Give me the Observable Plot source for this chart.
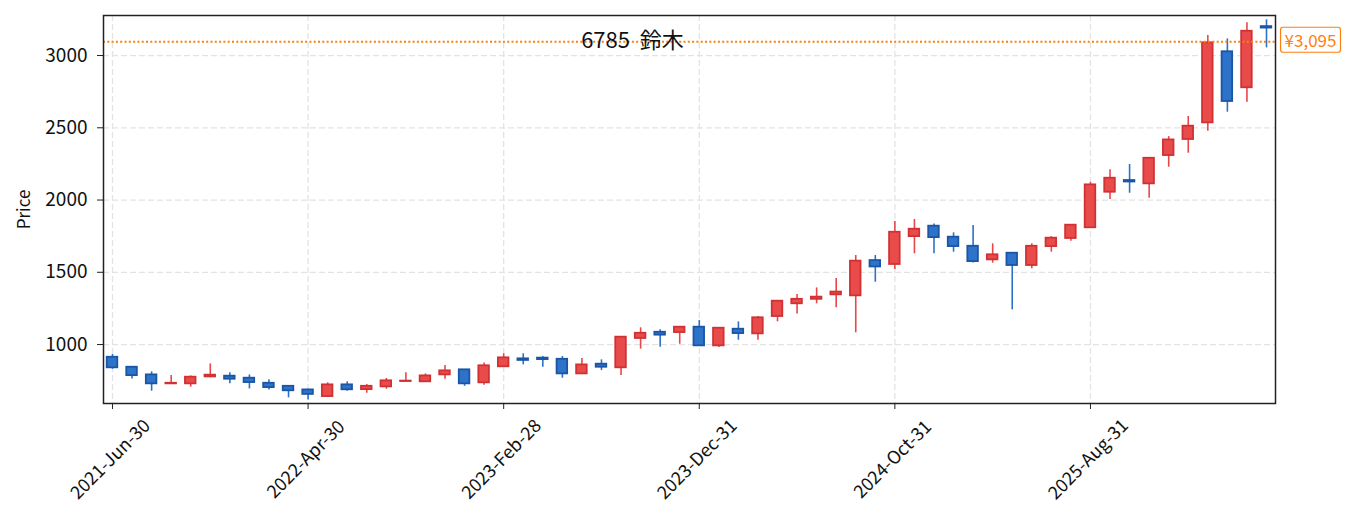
<!DOCTYPE html>
<html>
<head>
<meta charset="utf-8">
<script src="https://cdn.jsdelivr.net/npm/d3@7"></script>
<script src="https://cdn.jsdelivr.net/npm/@observablehq/plot@0.6"></script>
<style>
  html, body { margin: 0; padding: 0; background: #fff; }
  svg text { white-space: pre; }
</style>
</head>
<body>
<div id="chart"></div>
<script>
const dates = [
  "2021-Jun-30","2021-Jul-31","2021-Aug-31","2021-Sep-30","2021-Oct-31","2021-Nov-30","2021-Dec-31",
  "2022-Jan-31","2022-Feb-28","2022-Mar-31","2022-Apr-30","2022-May-31","2022-Jun-30","2022-Jul-31","2022-Aug-31","2022-Sep-30","2022-Oct-31","2022-Nov-30","2022-Dec-31",
  "2023-Jan-31","2023-Feb-28","2023-Mar-31","2023-Apr-30","2023-May-31","2023-Jun-30","2023-Jul-31","2023-Aug-31","2023-Sep-30","2023-Oct-31","2023-Nov-30","2023-Dec-31",
  "2024-Jan-31","2024-Feb-29","2024-Mar-31","2024-Apr-30","2024-May-31","2024-Jun-30","2024-Jul-31","2024-Aug-31","2024-Sep-30","2024-Oct-31","2024-Nov-30","2024-Dec-31",
  "2025-Jan-31","2025-Feb-28","2025-Mar-31","2025-Apr-30","2025-May-31","2025-Jun-30","2025-Jul-31","2025-Aug-31","2025-Sep-30","2025-Oct-31","2025-Nov-30","2025-Dec-31",
  "2026-Jan-31","2026-Feb-28","2026-Mar-31","2026-Apr-30","2026-May-31"
];
const opens = [912,843,790,728,728,776,781,767,732,711,686,640,721,688,707,744,742,790,825,735,846,901,906,898,797,864,839,1042,1085,1083,1120,991,1106,1074,1194,1282,1313,1344,1337,1581,1554,1747,1819,1743,1680,1586,1632,1547,1678,1734,1808,2054,2135,2112,2308,2419,2534,3026,2777,3200];
const highs = [931,845,811,785,783,866,804,790,756,713,690,735,742,723,765,804,797,855,827,873,936,936,917,917,903,894,1053,1116,1102,1122,1166,1115,1157,1194,1303,1346,1392,1457,1616,1616,1851,1865,1835,1773,1824,1697,1634,1697,1747,1828,2123,2209,2246,2291,2439,2578,3138,3115,3226,3247];
const lows = [829,762,677,726,705,770,728,693,686,631,617,638,677,663,691,742,740,760,711,718,843,860,843,767,795,820,785,968,982,1002,989,979,1030,1030,1157,1212,1282,1254,1081,1431,1519,1628,1628,1639,1565,1563,1240,1524,1639,1715,1805,2003,2047,2012,2227,2324,2476,2608,2677,3053];
const closes = [839,785,728,732,774,788,760,737,702,680,655,721,687,711,749,747,783,818,728,853,908,890,896,797,859,843,1051,1078,1065,1120,991,1113,1076,1185,1300,1313,1328,1363,1577,1537,1777,1798,1740,1678,1574,1621,1547,1680,1736,1826,2105,2151,2125,2289,2416,2511,3088,2682,3168,3190];
const xTicks = ["2021-Jun-30","2022-Apr-30","2023-Feb-28","2023-Dec-31","2024-Oct-31","2025-Aug-31"];
const yTicks = [1000,1500,2000,2500,3000];
const lastPrice = 3095;
const titleText = "6785  鈴木";
const yLabel = "Price";

const candles = dates.map((date, i) => ({date, open: opens[i], high: highs[i], low: lows[i], close: closes[i]}));
const up = d => d.close >= d.open;
const FONT = "'Noto Sans CJK JP', 'Noto Sans', sans-serif";
const ORANGE = "#ff7f0e";

const chart = Plot.plot({
  width: 1353,
  height: 530,
  marginLeft: 103,
  marginRight: 78,
  marginTop: 15,
  marginBottom: 127,
  style: {fontFamily: FONT, fontSize: "19px", background: "#fff", color: "#111"},
  x: {type: "band", domain: dates, paddingInner: 0.46, paddingOuter: 0.19},
  y: {domain: [592, 3277]},
  marks: [
    Plot.gridY(yTicks, {stroke: "#e3e3e3", strokeOpacity: 1, strokeWidth: 1.3, strokeDasharray: "6,3"}),
    Plot.ruleX(xTicks, {x: d => d, stroke: "#e3e3e3", strokeWidth: 1.3, strokeDasharray: "6,3"}),
    Plot.axisY(yTicks, {tickSize: 6, tickPadding: 10, tickFormat: d => String(d), label: null, fontSize: 19, stroke: "#222"}),
    Plot.axisX(xTicks, {tickSize: 6, tickFormat: () => "", label: null, stroke: "#222"}),
    Plot.text(xTicks, {x: d => d, text: d => d, frameAnchor: "bottom", rotate: -45, textAnchor: "middle", lineAnchor: "middle", dy: 56, dx: -2, fontSize: 18, fill: "#111"}),
    Plot.text([yLabel], {text: d => d, frameAnchor: "left", rotate: -90, dx: -79, textAnchor: "middle", lineAnchor: "middle", fontSize: 17, fill: "#111"}),
    Plot.ruleX(candles, {x: "date", y1: "low", y2: "high", stroke: d => up(d) ? "#e8474a" : "#2c70c8", strokeWidth: 1.6}),
    Plot.barY(candles, {x: "date", y1: "open", y2: "close", fill: d => up(d) ? "#e94b4b" : "#2d73c9", stroke: d => up(d) ? "#d03234" : "#1b55a6", strokeWidth: 1.8}),
    Plot.ruleY([lastPrice], {y: d => d, stroke: ORANGE, strokeWidth: 2, strokeDasharray: "2,2.3"}),
    Plot.text([titleText], {text: d => d, frameAnchor: "top", dx: -57, dy: 25, fontSize: 22, lineAnchor: "middle", fill: "#111"}),
    Plot.text([lastPrice], {y: d => d, frameAnchor: "right", dx: 35, text: d => "¥" + d3.format(",")(d), fill: ORANGE, fontSize: 17, textAnchor: "middle", lineAnchor: "middle"}),
    Plot.frame({stroke: "#222", strokeWidth: 1.5})
  ]
});

document.getElementById("chart").appendChild(chart);

// draw the rounded label box around the price tag text
const priceLabel = "¥" + d3.format(",")(lastPrice);
chart.querySelectorAll("text").forEach(t => {
  if (t.textContent === priceLabel) {
    const bb = t.getBBox();
    const r = document.createElementNS("http://www.w3.org/2000/svg", "rect");
    r.setAttribute("x", bb.x - 4);
    r.setAttribute("y", bb.y);
    r.setAttribute("width", bb.width + 8);
    r.setAttribute("height", bb.height);
    r.setAttribute("rx", 2.5);
    r.setAttribute("fill", "#fff");
    r.setAttribute("stroke", ORANGE);
    r.setAttribute("stroke-width", 1.2);
    if (t.getAttribute("transform")) r.setAttribute("transform", t.getAttribute("transform"));
    t.parentNode.insertBefore(r, t);
  }
});
</script>
</body>
</html>
